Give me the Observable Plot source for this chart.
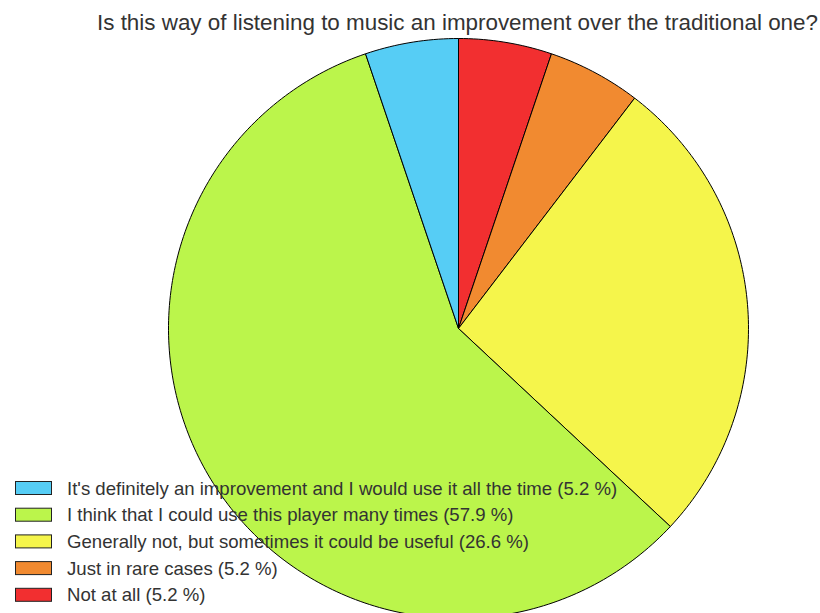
<!DOCTYPE html>
<html>
<head>
<meta charset="utf-8">
<script src="https://cdn.jsdelivr.net/npm/d3@7"></script>
<script src="https://cdn.jsdelivr.net/npm/@observablehq/plot@0.6"></script>
<style>
  html, body { margin: 0; padding: 0; background: #fff; overflow: hidden; }
  #wrap { position: relative; width: 820px; height: 613px; overflow: hidden; font-family: "Liberation Sans", Arial, sans-serif; }
  #wrap > svg.plot { position: absolute; left: 0; top: 0; }
  #overlay { position: absolute; left: 0; top: 0; pointer-events: none; }
</style>
</head>
<body>
<div id="wrap"></div>
<script>
const title = "Is this way of listening to music an improvement over the traditional one?";
const categories = [
  "It's definitely an improvement and I would use it all the time",
  "I think that I could use this player many times",
  "Generally not, but sometimes it could be useful",
  "Just in rare cases",
  "Not at all"
];
const percents = [5.2, 57.9, 26.6, 5.2, 5.2];
const colors = ["#56cdf5", "#bbf54b", "#f5f54b", "#f18a30", "#f22f30"];

// build slice outlines: clockwise from 12 o'clock, in reverse legend order
const total = d3.sum(percents);
const order = d3.range(categories.length).reverse();
const points = [];
let acc = 0;
for (const i of order) {
  const a0 = acc / total * 2 * Math.PI;
  acc += percents[i];
  const a1 = acc / total * 2 * Math.PI;
  const n = Math.max(8, Math.ceil((a1 - a0) / (2 * Math.PI) * 360));
  points.push({cat: categories[i], x: 0, y: 0});
  for (let k = 0; k <= n; k++) {
    const a = a0 + (a1 - a0) * k / n;
    points.push({cat: categories[i], x: Math.sin(a), y: Math.cos(a)});
  }
  points.push({cat: categories[i], x: 0, y: 0});
}

const chart = Plot.plot({
  width: 820,
  height: 613,
  margin: 0,
  x: {domain: [-1, 1], range: [168, 748], axis: null},
  y: {domain: [-1, 1], range: [618, 38], axis: null},
  color: {domain: categories, range: colors},
  style: {overflow: "hidden", background: "transparent"},
  marks: [
    Plot.line(points, {x: "x", y: "y", z: "cat", fill: "cat", stroke: "#000", strokeWidth: 1, strokeLinejoin: "round", curve: "linear"})
  ]
});
const wrap = document.getElementById("wrap");
wrap.appendChild(chart);

// title and legend overlay
const svg = d3.select(wrap).append("svg")
  .attr("id", "overlay").attr("width", 820).attr("height", 613);

svg.append("text")
  .attr("x", 818).attr("y", 30)
  .attr("text-anchor", "end")
  .attr("font-family", "Liberation Sans, Arial, sans-serif")
  .attr("font-size", 22)
  .attr("fill", "#333")
  .attr("textLength", 721)
  .attr("lengthAdjust", "spacingAndGlyphs")
  .text(title);

const leg = svg.append("g");
categories.forEach((c, i) => {
  const cy = 488 + i * 26.7;
  leg.append("rect")
    .attr("x", 15.5).attr("y", cy - 6.5).attr("width", 36).attr("height", 13)
    .attr("fill", colors[i]).attr("stroke", "#222").attr("stroke-width", 1);
  leg.append("text")
    .attr("x", 67).attr("y", cy + 6.5)
    .attr("font-family", "Liberation Sans, Arial, sans-serif")
    .attr("font-size", 18.6)
    .attr("fill", "#333")
    .text(`${c} (${percents[i].toFixed(1)} %)`);
});
</script>
</body>
</html>
